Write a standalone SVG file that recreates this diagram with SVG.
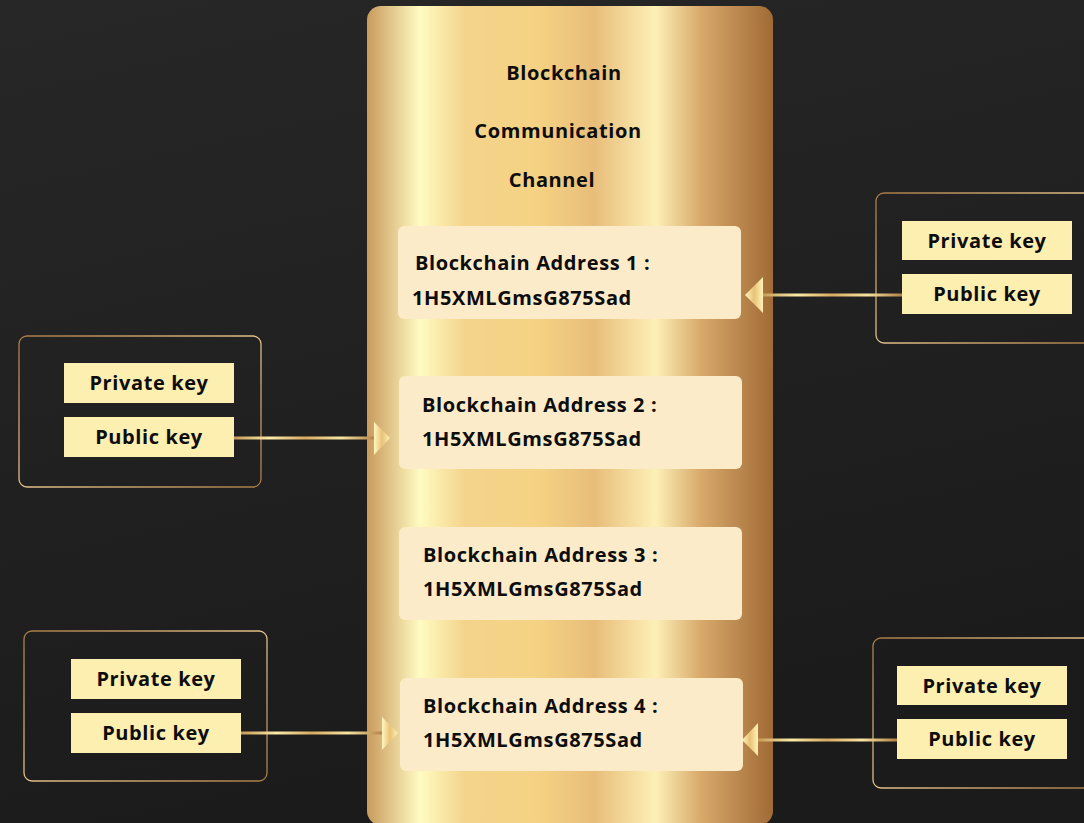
<svg xmlns="http://www.w3.org/2000/svg" width="1084" height="823" viewBox="0 0 1084 823">
<defs>
<linearGradient id="bg" x1="0" y1="0" x2="0.3" y2="1">
<stop offset="0" stop-color="#272727"/><stop offset="1" stop-color="#1b1b1b"/>
</linearGradient>
<linearGradient id="col" x1="367" y1="0" x2="773" y2="0" gradientUnits="userSpaceOnUse">
<stop offset="0" stop-color="#c99a5c"/>
<stop offset="0.13" stop-color="#fffbc2"/>
<stop offset="0.24" stop-color="#f4d48c"/>
<stop offset="0.42" stop-color="#f5d283"/>
<stop offset="0.56" stop-color="#e8bd7a"/>
<stop offset="0.71" stop-color="#fdf0b6"/>
<stop offset="0.82" stop-color="#d9aa6c"/>
<stop offset="1" stop-color="#a06a35"/>
</linearGradient>
<linearGradient id="frame" x1="0" y1="0" x2="1" y2="1">
<stop offset="0" stop-color="#a77a45"/><stop offset="0.5" stop-color="#e3c08a"/><stop offset="1" stop-color="#a77a45"/>
</linearGradient>
<linearGradient id="ln" x1="0" y1="0" x2="1" y2="0">
<stop offset="0" stop-color="#c59a55"/><stop offset="0.25" stop-color="#fbeaa8"/><stop offset="0.5" stop-color="#d8ab62"/><stop offset="0.75" stop-color="#f7e3a0"/><stop offset="1" stop-color="#b08045"/>
</linearGradient>
<linearGradient id="ah" x1="0" y1="0" x2="1" y2="0">
<stop offset="0" stop-color="#fff7c0"/><stop offset="0.5" stop-color="#e8c277"/><stop offset="1" stop-color="#fff2b8"/>
</linearGradient>
<style>
.t{font-family:"Open Sans","Liberation Sans",sans-serif;font-weight:700;fill:#0d0d0d;font-size:20px;letter-spacing:0.6px}
.addr{fill:#fcebc8}
.key{fill:#fdefb0}
.fr{fill:none;stroke:url(#frame);stroke-width:1.3}
.c{fill:url(#ln)}
.a{fill:url(#ah)}
</style>
</defs>
<rect width="1084" height="823" fill="url(#bg)"/>
<g id="channel">
<rect x="367" y="6" width="406" height="819" rx="14" fill="url(#col)"/>
<text class="t" x="564" y="80" text-anchor="middle">Blockchain</text>
<text class="t" x="558" y="138" text-anchor="middle">Communication</text>
<text class="t" x="552" y="187" text-anchor="middle">Channel</text>
</g>
<g id="address1"><rect class="addr" x="398" y="226" width="343" height="93" rx="6"/>
<text class="t" x="415" y="270">Blockchain Address 1 :</text><text class="t" x="412" y="305">1H5XMLGmsG875Sad</text></g>
<g id="address2"><rect class="addr" x="399" y="376" width="343" height="93" rx="6"/>
<text class="t" x="422" y="412">Blockchain Address 2 :</text><text class="t" x="422" y="446">1H5XMLGmsG875Sad</text></g>
<g id="address3"><rect class="addr" x="399" y="527" width="343" height="93" rx="6"/>
<text class="t" x="423" y="562">Blockchain Address 3 :</text><text class="t" x="423" y="596">1H5XMLGmsG875Sad</text></g>
<g id="address4"><rect class="addr" x="400" y="678" width="343" height="93" rx="6"/>
<text class="t" x="423" y="713">Blockchain Address 4 :</text><text class="t" x="423" y="747">1H5XMLGmsG875Sad</text></g>
<g id="keys-right-top"><rect class="fr" x="876" y="193" width="220" height="150" rx="8"/>
<rect class="key" x="902" y="221" width="170" height="39"/><text class="t" x="987" y="248" text-anchor="middle">Private key</text>
<rect class="key" x="902" y="274" width="170" height="40"/><text class="t" x="987" y="301" text-anchor="middle">Public key</text></g>
<g id="keys-left-top"><rect class="fr" x="19" y="336" width="242" height="151" rx="8"/>
<rect class="key" x="64" y="363" width="170" height="40"/><text class="t" x="149" y="390" text-anchor="middle">Private key</text>
<rect class="key" x="64" y="417" width="170" height="40"/><text class="t" x="149" y="444" text-anchor="middle">Public key</text></g>
<g id="keys-left-bottom"><rect class="fr" x="24" y="631" width="243" height="150" rx="8"/>
<rect class="key" x="71" y="659" width="170" height="40"/><text class="t" x="156" y="686" text-anchor="middle">Private key</text>
<rect class="key" x="71" y="713" width="170" height="40"/><text class="t" x="156" y="740" text-anchor="middle">Public key</text></g>
<g id="keys-right-bottom"><rect class="fr" x="873" y="638" width="220" height="150" rx="8"/>
<rect class="key" x="897" y="666" width="170" height="39"/><text class="t" x="982" y="693" text-anchor="middle">Private key</text>
<rect class="key" x="897" y="719" width="170" height="40"/><text class="t" x="982" y="746" text-anchor="middle">Public key</text></g>
<g id="connectors">
<rect class="c" x="762" y="293.5" width="140" height="3"/><polygon class="a" points="745,295 763,277 763,313"/>
<rect class="c" x="234" y="436.5" width="142" height="3"/><polygon class="a" points="390,438 374,422 374,455"/>
<rect class="c" x="241" y="731.5" width="142" height="3"/><polygon class="a" points="398,733 382,717 382,750"/>
<rect class="c" x="757" y="738.5" width="140" height="3"/><polygon class="a" points="742,740 758,723 758,756"/>
</g>
</svg>
